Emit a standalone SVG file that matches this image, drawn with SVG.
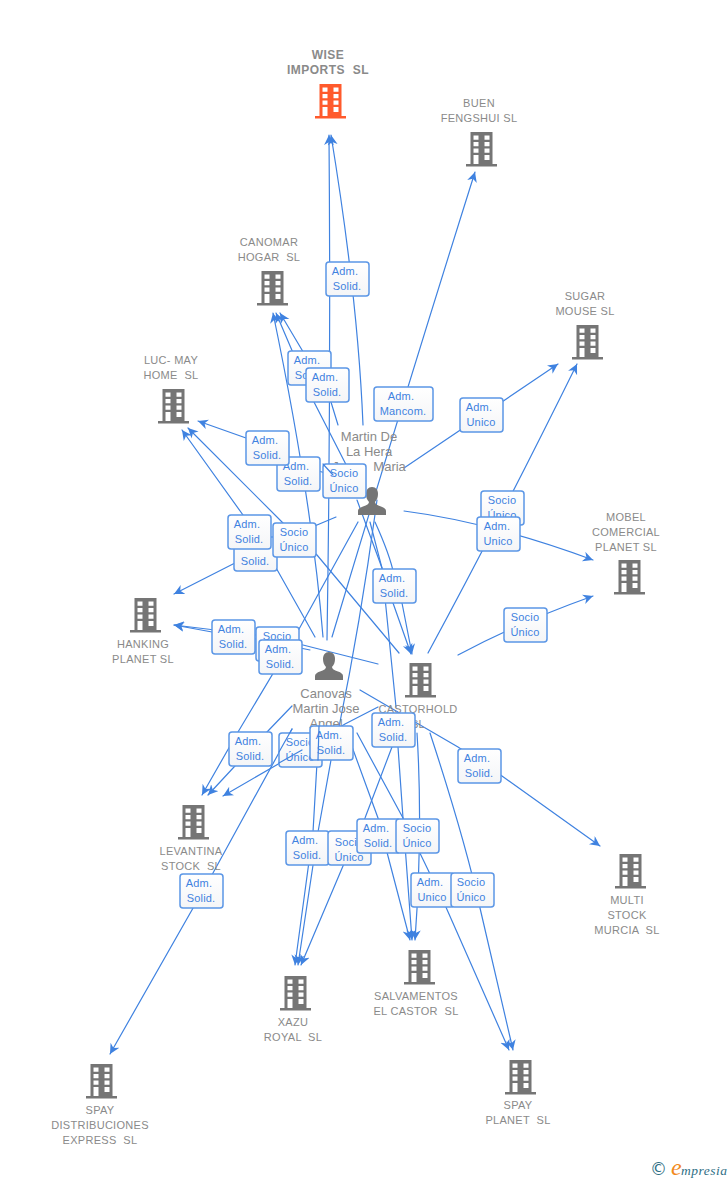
<svg xmlns="http://www.w3.org/2000/svg" width="728" height="1180" viewBox="0 0 728 1180">
<style>
text{font-family:"Liberation Sans",Arial,sans-serif;white-space:pre}
.n{font-size:11px;fill:#8a8a8a;text-anchor:middle;letter-spacing:.3px}
.w{font-size:12px;font-weight:bold;letter-spacing:.5px}
.p{font-size:13px;fill:#8a8a8a;text-anchor:middle}
.l{font-size:11px;fill:#3f82e0;text-anchor:middle;letter-spacing:.2px}
.c path{fill:none;stroke:#3f82e0;stroke-width:1.2;stroke-linecap:round}
.a{marker-end:url(#ah)}
.b{fill:url(#g);stroke:#5b96e6;stroke-width:1.5}
</style>
<defs>
<linearGradient id="g" x1="0" y1="0" x2="0" y2="1"><stop offset="0" stop-color="#fff"/><stop offset="1" stop-color="#f4f5f7"/></linearGradient>
<marker id="ah" markerUnits="userSpaceOnUse" markerWidth="12" markerHeight="12" refX="10" refY="5" orient="auto"><path d="M0,0L10,5L0,10L3,5z" fill="#3f82e0"/></marker>
<symbol id="bld" viewBox="0 0 31 35" width="31" height="35" overflow="visible">
<path fill-rule="evenodd" d="M4.500,0H26.500V32H31V34.500H0V32H4.500ZM7.500,3.500V7.800H12.500V3.500ZM18.500,3.500V7.800H23.500V3.500ZM7.500,10V14.300H12.500V10ZM18.500,10V14.300H23.500V10ZM7.500,16.500V20.800H12.500V16.500ZM18.500,16.500V20.800H23.500V16.500ZM7.500,23V32H12.500V23ZM18.500,23V28H23.500V23Z"/>
</symbol>
<symbol id="psn" viewBox="0 0 28 28" width="28" height="28" overflow="visible">
<path d="M14,0C18,0 20,3 20,7C20,10 19,13 17,15C17,17 19,18 23,19.500C26,20.500 28,22 28,24V28H0V24C0,22 2,20.500 5,19.500C9,18 11,17 11,15C9,13 8,10 8,7C8,3 10,0 14,0Z"/>
</symbol>
</defs>
<g id="connectors" class="c">
<path class="a" d="M363,425Q358,300 331,135"/>
<path class="a" d="M327,640Q331,390 329,135"/>
<path class="a" d="M332,637Q400,410 475,172"/>
<path class="a" d="M404,468L558,364"/>
<path class="a" d="M428,653Q500,520 577,364"/>
<path class="a" d="M404,511Q490,522 593,560"/>
<path class="a" d="M458,655Q520,622 593,596"/>
<path class="a" d="M338,425L331,402L302,350L280,313"/>
<path class="a" d="M358,488L314,402L276,313"/>
<path class="a" d="M323,637Q312,500 273,313"/>
<path class="a" d="M333,475L289,463L246,438L198,421"/>
<path class="a" d="M315,637L266,550L243,515L182,430"/>
<path class="a" d="M399,653L317,555L283,523L188,428"/>
<path class="a" d="M336,517L317,525L233,564L174,594"/>
<path class="a" d="M378,664L303,645L256,635L174,625"/>
<path class="a" d="M310,650L256,639L212,632L174,625"/>
<path class="a" d="M358,522L293,640L238,732L202,795"/>
<path class="a" d="M292,706L267,732L234,767L208,795"/>
<path class="a" d="M378,707L345,724L280,763L223,796"/>
<path class="a" d="M292,729L213,873L110,1054"/>
<path class="a" d="M319,728L313,832L295,965"/>
<path class="a" d="M377,500Q361,620 339,727L331,760L318,832L298,965"/>
<path class="a" d="M392,747L365,818L343,866L301,965"/>
<path d="M357,500L382,568L393,603"/>
<path d="M375,522Q390,555 394,575L402,603"/>
<path d="M370,522L382,568L396,707"/>
<path class="a" d="M393,603L411,654"/>
<path class="a" d="M402,603L412,654"/>
<path class="a" d="M398,747L403,818L412,940"/>
<path class="a" d="M347,733L378,818L410,940"/>
<path class="a" d="M417,733Q423,830 415,940"/>
<path class="a" d="M357,733L403,818L445,905L509,1050"/>
<path class="a" d="M430,733Q465,840 480,908L513,1050"/>
<path class="a" d="M360,690L458,747L502,776L600,846"/>
</g>
<g id="nodes">
<g id="wise"><text class="n w" x="328" y="59">WISE</text><text class="n w" x="328" y="74">IMPORTS  SL</text><use href="#bld" x="315" y="84" fill="#ff5a2c"/></g>
<g id="buen" fill="#757575"><text class="n" x="479" y="107">BUEN</text><text class="n" x="479" y="122">FENGSHUI SL</text><use href="#bld" x="466" y="132"/></g>
<g id="canomar" fill="#757575"><text class="n" x="269" y="246">CANOMAR</text><text class="n" x="269" y="261">HOGAR  SL</text><use href="#bld" x="257" y="271"/></g>
<g id="sugar" fill="#757575"><text class="n" x="585" y="300">SUGAR</text><text class="n" x="585" y="315">MOUSE SL</text><use href="#bld" x="572" y="325"/></g>
<g id="lucmay" fill="#757575"><text class="n" x="171" y="364">LUC- MAY</text><text class="n" x="171" y="379">HOME  SL</text><use href="#bld" x="158" y="389"/></g>
<g id="mobel" fill="#757575"><text class="n" x="626" y="521">MOBEL</text><text class="n" x="626" y="536">COMERCIAL</text><text class="n" x="626" y="551">PLANET SL</text><use href="#bld" x="614" y="560"/></g>
<g id="hanking" fill="#757575"><text class="n" x="143" y="648">HANKING</text><text class="n" x="143" y="663">PLANET SL</text><use href="#bld" x="130" y="598"/></g>
<g id="castorhold" fill="#757575"><text class="n" x="418" y="713">CASTORHOLD</text><text class="n" x="418" y="728">SL</text><use href="#bld" x="405" y="663"/></g>
<g id="levantina" fill="#757575"><text class="n" x="191" y="855">LEVANTINA</text><text class="n" x="191" y="870">STOCK  SL</text><use href="#bld" x="178" y="805"/></g>
<g id="multi" fill="#757575"><text class="n" x="627" y="904">MULTI</text><text class="n" x="627" y="919">STOCK</text><text class="n" x="627" y="934">MURCIA  SL</text><use href="#bld" x="615" y="854"/></g>
<g id="salvamentos" fill="#757575"><text class="n" x="416" y="1000">SALVAMENTOS</text><text class="n" x="416" y="1015">EL CASTOR  SL</text><use href="#bld" x="404" y="950"/></g>
<g id="xazu" fill="#757575"><text class="n" x="293" y="1026">XAZU</text><text class="n" x="293" y="1041">ROYAL  SL</text><use href="#bld" x="280" y="976"/></g>
<g id="spayplanet" fill="#757575"><text class="n" x="518" y="1109">SPAY</text><text class="n" x="518" y="1124">PLANET  SL</text><use href="#bld" x="505" y="1060"/></g>
<g id="spaydist" fill="#757575"><text class="n" x="100" y="1114">SPAY</text><text class="n" x="100" y="1129">DISTRIBUCIONES</text><text class="n" x="100" y="1144">EXPRESS  SL</text><use href="#bld" x="86" y="1064"/></g>
<g id="martin" fill="#757575"><text class="p" x="369" y="441">Martin De</text><text class="p" x="369" y="456">La Hera</text><text class="p" x="369" y="471">Jesus  Maria</text><use href="#psn" x="358" y="487"/></g>
<g id="canovas" fill="#757575"><text class="p" x="326" y="698">Canovas</text><text class="p" x="326" y="713">Martin Jose</text><text class="p" x="326" y="728">Angel</text><use href="#psn" x="315" y="652"/></g>
</g>
<g id="edge-labels">
<g><rect class="b" x="326" y="262" width="43" height="34" rx="3"/><text class="l" x="345" y="275">Adm.</text><text class="l" x="347" y="290">Solid.</text></g>
<g><rect class="b" x="288" y="351" width="43" height="34" rx="3"/><text class="l" x="307" y="364">Adm.</text><text class="l" x="309" y="379">Solid.</text></g>
<g><rect class="b" x="306" y="368" width="43" height="34" rx="3"/><text class="l" x="325" y="381">Adm.</text><text class="l" x="327" y="396">Solid.</text></g>
<g><rect class="b" x="374" y="387" width="59" height="34" rx="3"/><text class="l" x="401" y="400">Adm.</text><text class="l" x="403" y="415">Mancom.</text></g>
<g><rect class="b" x="460" y="398" width="43" height="34" rx="3"/><text class="l" x="479" y="411">Adm.</text><text class="l" x="481" y="426">Unico</text></g>
<g><rect class="b" x="277" y="457" width="43" height="34" rx="3"/><text class="l" x="296" y="470">Adm.</text><text class="l" x="298" y="485">Solid.</text></g>
<g><rect class="b" x="246" y="431" width="43" height="34" rx="3"/><text class="l" x="265" y="444">Adm.</text><text class="l" x="267" y="459">Solid.</text></g>
<g><rect class="b" x="323" y="464" width="43" height="34" rx="3"/><text class="l" x="344" y="477">Socio</text><text class="l" x="344" y="492">Único</text></g>
<g><rect class="b" x="481" y="491" width="43" height="34" rx="3"/><text class="l" x="502" y="504">Socio</text><text class="l" x="502" y="519">Único</text></g>
<g><rect class="b" x="477" y="517" width="43" height="34" rx="3"/><text class="l" x="497" y="530">Adm.</text><text class="l" x="498" y="545">Unico</text></g>
<g><rect class="b" x="504" y="608" width="43" height="34" rx="3"/><text class="l" x="525" y="621">Socio</text><text class="l" x="525" y="636">Único</text></g>
<g><rect class="b" x="234" y="537" width="43" height="34" rx="3"/><text class="l" x="255" y="565">Solid.</text></g>
<g><rect class="b" x="228" y="515" width="43" height="34" rx="3"/><text class="l" x="247" y="528">Adm.</text><text class="l" x="249" y="543">Solid.</text></g>
<g><rect class="b" x="273" y="523" width="43" height="34" rx="3"/><text class="l" x="294" y="536">Socio</text><text class="l" x="294" y="551">Único</text></g>
<g><rect class="b" x="373" y="569" width="43" height="34" rx="3"/><text class="l" x="392" y="582">Adm.</text><text class="l" x="394" y="597">Solid.</text></g>
<g><rect class="b" x="212" y="620" width="43" height="34" rx="3"/><text class="l" x="231" y="633">Adm.</text><text class="l" x="233" y="648">Solid.</text></g>
<g><rect class="b" x="256" y="627" width="43" height="34" rx="3"/><text class="l" x="277" y="640">Socio</text><text class="l" x="277" y="655">Único</text></g>
<g><rect class="b" x="259" y="640" width="43" height="34" rx="3"/><text class="l" x="278" y="653">Adm.</text><text class="l" x="280" y="668">Solid.</text></g>
<g><rect class="b" x="229" y="732" width="43" height="34" rx="3"/><text class="l" x="248" y="745">Adm.</text><text class="l" x="250" y="760">Solid.</text></g>
<g><rect class="b" x="279" y="733" width="43" height="34" rx="3"/><text class="l" x="300" y="746">Socio</text><text class="l" x="300" y="761">Único</text></g>
<g><rect class="b" x="310" y="726" width="43" height="34" rx="3"/><text class="l" x="329" y="739">Adm.</text><text class="l" x="331" y="754">Solid.</text></g>
<g><rect class="b" x="372" y="713" width="43" height="34" rx="3"/><text class="l" x="391" y="726">Adm.</text><text class="l" x="393" y="741">Solid.</text></g>
<g><rect class="b" x="458" y="749" width="43" height="34" rx="3"/><text class="l" x="477" y="762">Adm.</text><text class="l" x="479" y="777">Solid.</text></g>
<g><rect class="b" x="286" y="831" width="43" height="34" rx="3"/><text class="l" x="305" y="844">Adm.</text><text class="l" x="307" y="859">Solid.</text></g>
<g><rect class="b" x="328" y="831" width="43" height="34" rx="3"/><text class="l" x="349" y="846">Socio</text><text class="l" x="349" y="861">Único</text></g>
<g><rect class="b" x="357" y="819" width="43" height="34" rx="3"/><text class="l" x="376" y="832">Adm.</text><text class="l" x="378" y="847">Solid.</text></g>
<g><rect class="b" x="396" y="819" width="43" height="34" rx="3"/><text class="l" x="417" y="832">Socio</text><text class="l" x="417" y="847">Único</text></g>
<g><rect class="b" x="411" y="873" width="43" height="34" rx="3"/><text class="l" x="430" y="886">Adm.</text><text class="l" x="432" y="901">Unico</text></g>
<g><rect class="b" x="451" y="873" width="43" height="34" rx="3"/><text class="l" x="471" y="886">Socio</text><text class="l" x="471" y="901">Único</text></g>
<g><rect class="b" x="180" y="874" width="43" height="34" rx="3"/><text class="l" x="199" y="887">Adm.</text><text class="l" x="201" y="902">Solid.</text></g>
</g>
<g id="connectors-over" class="c">
<path d="M323,464L333,475"/>
<path d="M319,726L318,760"/>
<path d="M292,729L279,752M279,763L302,750"/>
</g>
<g id="brand">
<text x="650" y="1175" font-size="17" fill="#2f6f85" style="font-family:'DejaVu Sans',sans-serif">©</text>
<text x="671" y="1175" font-size="24" font-style="italic" fill="#f28a1c" style="font-family:'Liberation Serif',serif">e</text>
<text x="681" y="1175" font-size="13.500" font-style="italic" fill="#2f6f85" style="font-family:'Liberation Serif',serif" letter-spacing=".5">mpresia</text>
</g>
</svg>
